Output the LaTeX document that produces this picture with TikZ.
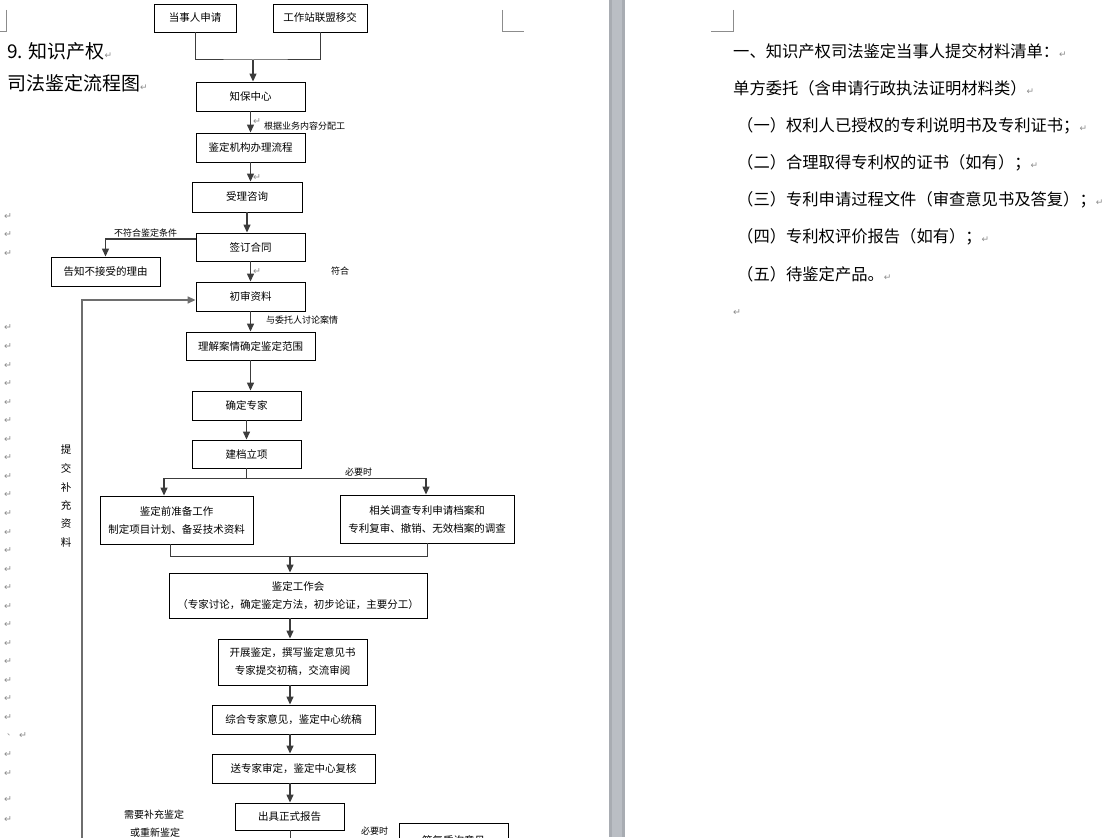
\documentclass[tikz,border=0pt]{standalone}
\usepackage{fontspec}
\setmainfont{Noto Sans CJK SC}
\newfontfamily\symfont{DejaVu Sans}
\usetikzlibrary{arrows.meta,calc}
\definecolor{sepgray}{RGB}{168,172,178}
\definecolor{seplight}{RGB}{186,190,196}
\definecolor{markgray}{RGB}{140,140,140}
\definecolor{linegray}{RGB}{60,60,60}
\definecolor{loopgray}{RGB}{110,110,110}
\newcommand{\retmark}{{\symfont\fontsize{9}{9}\selectfont\color{markgray}↵}}
\begin{document}
\begin{tikzpicture}[x=1pt,y=1pt,yscale=-1,
  box/.style={draw,line width=0.9pt,inner sep=0pt,align=center,font=\fontsize{10.5}{18}\selectfont},
  note/.style={anchor=west,inner sep=0pt,font=\fontsize{9}{9}\selectfont},
  body/.style={anchor=west,inner sep=0pt,font=\fontsize{16.3}{16.3}\selectfont},
  retnode/.style={inner sep=0pt,font=\symfont\fontsize{9.5}{9.5}\selectfont,text=markgray},
  link/.style={draw=linegray,line width=1pt},
  arr/.style={draw=linegray,line width=1.3pt,-{Triangle[width=7pt,length=8pt]}}]
 \useasboundingbox (0,0) rectangle (1115,837);
 \fill[white] (0,0) rectangle (1115,837);

 %Shape: page gap
 \fill[sepgray] (609,0) rectangle (625,837);
 \fill[seplight] (612,0) rectangle (622,837);
 %Shape: corner marks
 \draw[markgray,line width=0.8pt] (6,10) -- (6,31) -- (0,31);
 \draw[markgray,line width=0.8pt] (502,10) -- (502,31) -- (524,31);
 \draw[markgray,line width=0.8pt] (733,10) -- (733,31) -- (711,31);

 % Text Node
 \node[anchor=west,inner sep=0pt,font=\fontsize{19}{19}\selectfont] (title1) at (7,51) {9. 知识产权\retmark};
 % Text Node
 \node[anchor=west,inner sep=0pt,font=\fontsize{19}{19}\selectfont] (title2) at (7,83) {司法鉴定流程图\retmark};

 %Shape: boxes
 \node[box,minimum width=82,minimum height=28] (apply) at (195,18) {当事人申请};
 \node[box,minimum width=94,minimum height=28] (transfer) at (320,18) {工作站联盟移交};
 \node[box,minimum width=109,minimum height=29] (zhibao) at (250.5,96.5) {知保中心};
 \node[box,minimum width=109,minimum height=29] (process) at (250.5,147.5) {鉴定机构办理流程};
 \node[box,minimum width=110,minimum height=30] (consult) at (247,197) {受理咨询};
 \node[box,minimum width=109,minimum height=28] (contract) at (250.5,247) {签订合同};
 \node[box,minimum width=109,minimum height=29] (refuse) at (105.5,271.5) {告知不接受的理由};
 \node[box,minimum width=109,minimum height=29] (review) at (250.5,296.5) {初审资料};
 \node[box,minimum width=129,minimum height=28] (scope) at (250.5,346) {理解案情确定鉴定范围};
 \node[box,minimum width=109,minimum height=29] (expert) at (246.5,405.5) {确定专家};
 \node[box,minimum width=109,minimum height=28] (filing) at (246.5,454) {建档立项};
 \node[box,minimum width=153,minimum height=48] (prep) at (176.5,520) {鉴定前准备工作\\制定项目计划、备妥技术资料};
 \node[box,minimum width=174,minimum height=48] (survey) at (427,519) {相关调查专利申请档案和\\专利复审、撤销、无效档案的调查};
 \node[box,minimum width=258,minimum height=45] (meeting) at (298,595.5) {鉴定工作会\\（专家讨论，确定鉴定方法，初步论证，主要分工）};
 \node[box,minimum width=149,minimum height=46] (draft) at (292.5,662) {开展鉴定，撰写鉴定意见书\\专家提交初稿，交流审阅};
 \node[box,minimum width=163,minimum height=29] (merge) at (293.5,719.5) {综合专家意见，鉴定中心统稿};
 \node[box,minimum width=163,minimum height=29] (recheck) at (293.5,768.5) {送专家审定，鉴定中心复核};
 \node[box,minimum width=109,minimum height=27] (report) at (289.5,816.5) {出具正式报告};
 \node[box,minimum width=109,minimum height=34] (reply) at (453.5,840) {答复质询意见};

 %Straight Lines
 \coordinate (topjoin) at (253,60);
 \draw[link] (apply.south) |- (topjoin) -| (transfer.south);
 \draw[arr] (topjoin) -- (topjoin |- zhibao.north);
 \draw[arr] (zhibao.south) -- (zhibao.south |- process.north);
 \draw[arr] (process.south) -- (process.south |- consult.north);
 \draw[arr] (consult.south) -- (consult.south |- contract.north);
 \draw[arr] (contract.west |- 0,239) -| (refuse.north);
 \draw[arr] (contract.south) -- (contract.south |- review.north);
 \draw[arr] (review.south) -- (review.south |- scope.north);
 \draw[arr] (scope.south) -- (scope.south |- expert.north);
 \draw[arr] (expert.south) -- (expert.south |- filing.north);
 \coordinate (splitL) at (164,478);
 \coordinate (splitR) at (426,478);
 \draw[link] (filing.south) -- (filing.south |- splitL);
 \draw[link] (splitL) -- (splitR);
 \draw[arr] (splitL) -- (splitL |- prep.north);
 \draw[arr] (splitR) -- (splitR |- survey.north);
 \coordinate (joinL) at (170,556);
 \coordinate (joinR) at (427,556);
 \coordinate (join) at (290,556);
 \draw[link] (joinL |- prep.south) -- (joinL) -- (joinR) -- (joinR |- survey.south);
 \draw[arr] (join) -- (join |- meeting.north);
 \draw[arr] (meeting.south -| join) -- (join |- draft.north);
 \draw[arr] (draft.south -| join) -- (join |- merge.north);
 \draw[arr] (merge.south -| join) -- (join |- recheck.north);
 \draw[arr] (recheck.south -| join) -- (join |- report.north);
 \coordinate (reportfoot) at (290,845);
 \draw[link] (report.south -| join) -- (reportfoot);
 \coordinate (loopfoot) at (82,845);
 \draw[draw=loopgray,line width=1.5pt,-{Triangle[width=7pt,length=8pt]}] (loopfoot) |- (review.west |- 0,300);

 % Text Node
 \node[note] (lbl1) at (264,126) {根据业务内容分配工};
 \node[note] (lbl2) at (114,233) {不符合鉴定条件};
 \node[note] (lbl3) at (331,271) {符合};
 \node[note] (lbl4) at (266,320) {与委托人讨论案情};
 \node[note] (lbl5) at (345,472) {必要时};
 \node[note,font=\fontsize{10}{10}\selectfont] (lbl6) at (124,815) {需要补充鉴定};
 \node[note,font=\fontsize{10}{10}\selectfont] (lbl7) at (130,833) {或重新鉴定};
 \node[note] (lbl8) at (361,831) {必要时};
 \foreach \ch [count=\k from 0] in {提,交,补,充,资,料}
   \node[inner sep=0pt,font=\fontsize{10.5}{10.5}\selectfont] (side\k) at (66,450+18.5*\k) {\ch};

 % Text Node: paragraph marks
 \node[retnode] (ra) at (257,122) {↵};
 \node[retnode] (rb) at (257,178) {↵};
 \node[retnode] (rc) at (257,272) {↵};
 \foreach \k in {0,...,21,23,24}
   \node[retnode] (rm\k) at (8,328+18.55*\k) {↵};
 \node[retnode] (rm22) at (23,736) {↵};
 \node[inner sep=0pt,font=\fontsize{8}{8}\selectfont,text=markgray] (dun) at (11,735) {、};
 \node[retnode] (rx1) at (8,217) {↵};
 \node[retnode] (rx2) at (8,235) {↵};
 \node[retnode] (rx3) at (8,254) {↵};
 \node[retnode] (rx4) at (8,800) {↵};
 \node[retnode] (rx5) at (8,820) {↵};

 % Text Node: list on the right page
 \node[body] (head) at (733,51) {一、知识产权司法鉴定当事人提交材料清单：\retmark};
 \node[body] (sub) at (733,88) {单方委托（含申请行政执法证明材料类）\retmark};
 \node[body] (item1) at (737,126) {（一）权利人已授权的专利说明书及专利证书；\retmark};
 \node[body] (item2) at (737,163) {（二）合理取得专利权的证书（如有）；\retmark};
 \node[body] (item3) at (737,200) {（三）专利申请过程文件（审查意见书及答复）；\retmark};
 \node[body] (item4) at (737,237) {（四）专利权评价报告（如有）；\retmark};
 \node[body] (item5) at (737,274) {（五）待鉴定产品。\retmark};
 \node[retnode] (rend) at (737,313) {↵};
\end{tikzpicture}
\end{document}
